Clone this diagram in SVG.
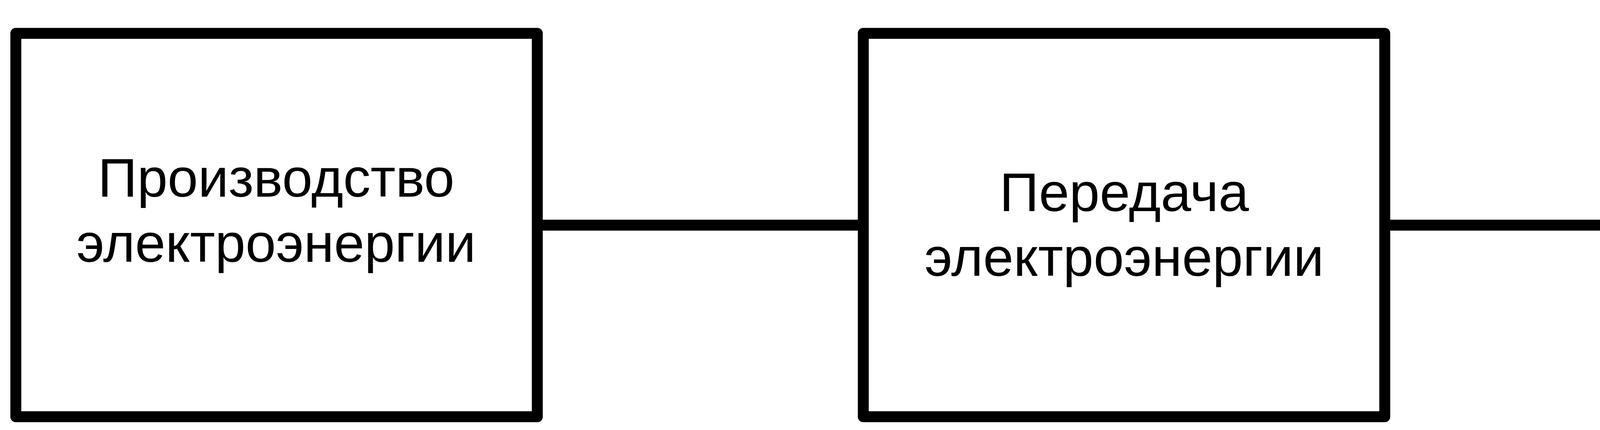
<svg xmlns="http://www.w3.org/2000/svg" width="5774" height="1102" viewBox="0 0 5774 1102">
<style>
.box{fill:#fff;stroke:#000;stroke-width:28;stroke-linejoin:round}
.conn{stroke:#000;stroke-width:28;fill:none}
.lbl{font-family:"Liberation Sans",Arial,sans-serif;font-size:140px;fill:#000;text-anchor:middle}
</style>
<rect width="5774" height="1102" fill="#fff"/>
<g id="connectors">
<line class="conn" x1="1375.5" y1="577" x2="2210" y2="577"/>
<line class="conn" x1="3545" y1="577" x2="4379" y2="577"/>
</g>
<g id="node-production">
<rect class="box" x="40.5" y="85.5" width="1335" height="982.5"/>
<text class="lbl" x="707"><tspan x="707" y="504">Производство</tspan><tspan x="707" y="671">электроэнергии</tspan></text>
</g>
<g id="node-transmission">
<rect class="box" x="2210" y="85.5" width="1335" height="982.5"/>
<text class="lbl" x="2878"><tspan x="2878" y="541">Передача</tspan><tspan x="2878" y="707">электроэнергии</tspan></text>
</g>
<g id="node-consumption">
<rect class="box" x="4379" y="85.5" width="1335" height="982.5"/>
<text class="lbl" x="5076"><tspan x="5076" y="529">Потребление</tspan><tspan x="5076" y="695.5">электроэнергии</tspan></text>
</g>
</svg>
